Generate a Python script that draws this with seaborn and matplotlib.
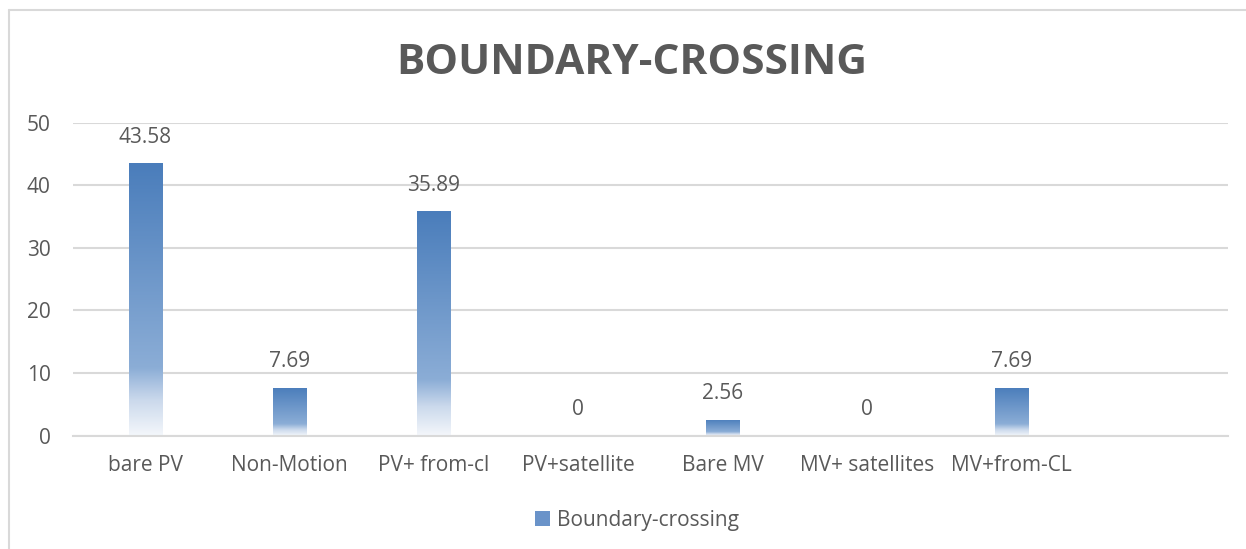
import numpy as np
import pandas as pd
import matplotlib.pyplot as plt
import matplotlib.colors as mcolors
from matplotlib.patches import Patch
import seaborn as sns

categories = ["bare PV", "Non-Motion", "PV+ from-cl", "PV+satellite",
              "Bare MV", "MV+ satellites", "MV+from-CL"]
values = [43.58, 7.69, 35.89, 0, 2.56, 0, 7.69]
series_name = "Boundary-crossing"
title = "BOUNDARY-CROSSING"

sns.set_theme(style="white")
plt.rcParams["font.family"] = ["Open Sans", "DejaVu Sans"]

text_col = "#595959"
grid_col = "#d9d9d9"

df = pd.DataFrame({"category": categories, "value": values})

fig = plt.figure(figsize=(12.46, 5.49), dpi=100)
ax = fig.add_axes([0.0586, 0.2064, 0.9270, 0.5701])

sns.barplot(data=df, x="category", y="value", ax=ax, width=0.23,
            color="#4f81bd", saturation=1)

ax.set_xlim(-0.5, 7.5)
ax.set_ylim(0, 50)
ax.set_yticks([0, 10, 20, 30, 40, 50])
ax.yaxis.grid(True, color=grid_col, linewidth=1.5)
ax.set_axisbelow(True)
for s in ["top", "right", "left"]:
    ax.spines[s].set_visible(False)
ax.spines["bottom"].set_color(grid_col)
ax.spines["bottom"].set_linewidth(1.5)
ax.set_xlabel("")
ax.set_ylabel("")
ax.tick_params(axis="y", length=0, pad=16, labelsize=15, labelcolor=text_col)
ax.tick_params(axis="x", length=0, pad=14, labelsize=15, labelcolor=text_col)

# gradient fill, dark at top fading to white at the base
cmap = mcolors.LinearSegmentedColormap.from_list(
    "grad", [(0.0, "#f4f7fb"), (0.13, "#cbd9ec"), (0.25, "#8badd6"),
             (1.0, "#4a7dbb")])
grad = np.linspace(0, 1, 256).reshape(-1, 1)
for p in ax.patches:
    h = p.get_height()
    if h <= 0:
        continue
    x0 = p.get_x()
    w = p.get_width()
    p.set_facecolor("none")
    p.set_edgecolor("none")
    im = ax.imshow(grad, cmap=cmap, origin="lower", aspect="auto",
                   extent=[x0, x0 + w, 0, h], zorder=2)
    im.set_clip_path(p)

for i, v in enumerate(values):
    ax.annotate(f"{v:g}", (i, v), xytext=(0, 11), textcoords="offset points",
                ha="center", va="bottom", fontsize=15, color=text_col)

fig.suptitle(title, x=0.507, y=0.885, va="center", fontsize=30.5,
             fontweight="bold", color=text_col)

handle = Patch(facecolor="#6a93c9", edgecolor="none")
fig.legend([handle], [series_name], loc="center", bbox_to_anchor=(0.511, 0.052),
           frameon=False, fontsize=15, labelcolor=text_col, handlelength=0.75,
           handleheight=0.75, handletextpad=0.3)

# chart area border (top and left visible)
fig.add_artist(plt.Line2D([0.0072, 1.0], [0.9809, 0.9809], color=grid_col,
                          linewidth=1.5, transform=fig.transFigure))
fig.add_artist(plt.Line2D([0.0072, 0.0072], [0.0, 0.9809], color=grid_col,
                          linewidth=1.5, transform=fig.transFigure))

fig.savefig("out.png", dpi=100)
